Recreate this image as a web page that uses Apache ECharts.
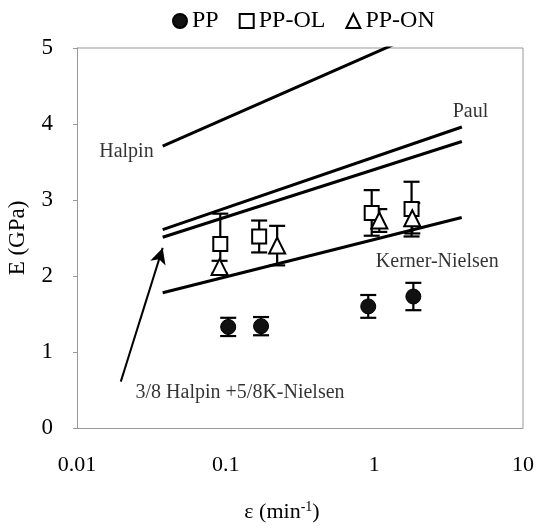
<!DOCTYPE html>
<html>
<head>
<meta charset="utf-8">
<script src="https://cdn.jsdelivr.net/npm/echarts@6/dist/echarts.min.js"></script>
<style>
  html, body { margin: 0; padding: 0; background: #fff; }
  #chart { width: 536px; height: 528px; }
</style>
</head>
<body>
<div id="chart"></div>
<script>
// 数据
const ppX = [0.104, 0.173, 0.91, 1.83];
const ppY = [1.33, 1.34, 1.60, 1.73];
const ppErr = [0.12, 0.12, 0.15, 0.18];

const olX = [0.092, 0.168, 0.96, 1.78];
const olY = [2.42, 2.52, 2.83, 2.88];
const olErr = [0.40, 0.21, 0.30, 0.36];

const onX = [0.091, 0.222, 1.08, 1.80];
const onY = [2.12, 2.40, 2.73, 2.76];
const onErr = [0.08, 0.26, 0.15, 0.20];

// 模型曲线 [x, E]
const halpin = [[0.0377, 3.71], [3.88, 5.44]];
const paulUpper = [[0.0377, 2.61], [3.88, 3.96]];
const paulLower = [[0.0377, 2.51], [3.88, 3.77]];
const kernerNielsen = [[0.0377, 1.78], [3.87, 2.77]];

// 注释文字 [x, y, 文本]
const notes = [
    [0.0215, 3.63, 'Halpin'],
    [4.43, 4.16, 'Paul'],
    [2.65, 2.19, 'Kerner-Nielsen'],
    [0.125, 0.47, '3/8 Halpin +5/8K-Nielsen']
];
// 箭头起点/终点
const arrowFrom = [0.0197, 0.61];
const arrowTo = [0.0377, 2.37];

const serif = '"Liberation Serif", "DejaVu Serif", serif';

function pts(xs, ys) {
    return xs.map((x, i) => [x, ys[i]]);
}
function errs(xs, ys, es) {
    return xs.map((x, i) => [x, ys[i] - es[i], ys[i] + es[i]]);
}

function errorSeries(data) {
    return {
        type: 'custom',
        z: 1,
        silent: true,
        data: data,
        renderItem: function (params, api) {
            const lo = api.coord([api.value(0), api.value(1)]);
            const hi = api.coord([api.value(0), api.value(2)]);
            const w = 8;
            const style = { stroke: '#000', lineWidth: 2.2 };
            return {
                type: 'group',
                children: [
                    { type: 'line', shape: { x1: lo[0], y1: lo[1], x2: hi[0], y2: hi[1] }, style: style },
                    { type: 'line', shape: { x1: lo[0] - w, y1: lo[1], x2: lo[0] + w, y2: lo[1] }, style: style },
                    { type: 'line', shape: { x1: hi[0] - w, y1: hi[1], x2: hi[0] + w, y2: hi[1] }, style: style }
                ]
            };
        }
    };
}

function curve(data) {
    return {
        type: 'line',
        data: data,
        symbol: 'none',
        silent: true,
        z: 2,
        lineStyle: { color: '#000', width: 3 }
    };
}

const chart = echarts.init(document.getElementById('chart'));

const option = {
    animation: false,
    textStyle: { fontFamily: serif },
    legend: {
        top: 4,
        left: 167,
        data: ['PP', 'PP-OL', 'PP-ON'],
        itemWidth: 14,
        itemHeight: 14,
        itemGap: 20,
        textStyle: { fontFamily: serif, fontSize: 24, color: '#000' }
    },
    grid: { left: 77, right: 13, top: 48, bottom: 100, outerBoundsMode: 'none', containLabel: false },
    xAxis: {
        type: 'log',
        logBase: 10,
        min: 0.01,
        max: 10,
        name: '{a|ε (min}{s|-1}{a|)}',
        nameLocation: 'middle',
        nameGap: 72,
        nameTextStyle: {
            padding: [0, 36, 0, 0],
            rich: {
                a: { fontFamily: serif, fontSize: 22, color: '#000' },
                s: { fontFamily: serif, fontSize: 14, color: '#000', verticalAlign: 'top', padding: [0, 0, 10, 0] }
            }
        },
        axisLine: { lineStyle: { color: '#999', width: 1 } },
        axisTick: { show: false },
        splitLine: { show: false },
        minorTick: { show: false },
        axisLabel: {
            margin: 26,
            fontFamily: serif,
            fontSize: 22,
            color: '#000',
            formatter: function (v) { return String(+v.toPrecision(3)); }
        }
    },
    yAxis: {
        type: 'value',
        min: 0,
        max: 5,
        interval: 1,
        name: 'E (GPa)',
        nameLocation: 'middle',
        nameGap: 48,
        nameTextStyle: { fontFamily: serif, fontSize: 23, color: '#000' },
        axisLine: { show: true, lineStyle: { color: '#999', width: 1 } },
        axisTick: { show: true, length: 4, lineStyle: { color: '#999' } },
        splitLine: { show: false },
        axisLabel: { margin: 24, fontFamily: serif, fontSize: 23, color: '#000' }
    },
    graphic: [],
    series: [
        curve(halpin),
        curve(paulUpper),
        curve(paulLower),
        curve(kernerNielsen),
        errorSeries(errs(ppX, ppY, ppErr)),
        errorSeries(errs(olX, olY, olErr)),
        errorSeries(errs(onX, onY, onErr)),
        {
            name: 'PP',
            type: 'scatter',
            z: 5,
            data: pts(ppX, ppY),
            symbol: 'circle',
            symbolSize: 15,
            itemStyle: { color: '#111', borderColor: '#000', borderWidth: 1, opacity: 1 }
        },
        {
            name: 'PP-OL',
            type: 'scatter',
            z: 5,
            data: pts(olX, olY),
            symbol: 'rect',
            symbolSize: 14,
            itemStyle: { color: '#fff', borderColor: '#000', borderWidth: 2, opacity: 1 }
        },
        {
            name: 'PP-ON',
            type: 'scatter',
            z: 5,
            data: pts(onX, onY),
            symbol: 'triangle',
            symbolSize: 16,
            itemStyle: { color: '#fff', borderColor: '#000', borderWidth: 2, opacity: 1 }
        },
        {
            // 注释文字和箭头
            type: 'scatter',
            z: 6,
            silent: true,
            symbolSize: 0,
            data: notes.map(n => ({ value: [n[0], n[1]], name: n[2] })),
            label: {
                show: true,
                position: 'inside',
                formatter: '{b}',
                fontFamily: serif,
                fontSize: 20,
                color: '#000'
            },
            markLine: {
                silent: true,
                symbol: ['none', 'arrow'],
                symbolSize: [12, 16],
                label: { show: false },
                lineStyle: { color: '#000', width: 2, type: 'solid' },
                data: [[{ coord: arrowFrom }, { coord: arrowTo }]]
            }
        }
    ]
};

chart.setOption(option);

// 上边和右边的框线
const tl = chart.convertToPixel({ gridIndex: 0 }, [10, 5]);
const bl = chart.convertToPixel({ gridIndex: 0 }, [0.01, 0]);
chart.setOption({
    graphic: [{
        type: 'polyline',
        silent: true,
        shape: { points: [[bl[0], tl[1]], [tl[0], tl[1]], [tl[0], bl[1]]] },
        style: { stroke: '#999', lineWidth: 1, fill: null }
    }]
});
</script>
</body>
</html>
